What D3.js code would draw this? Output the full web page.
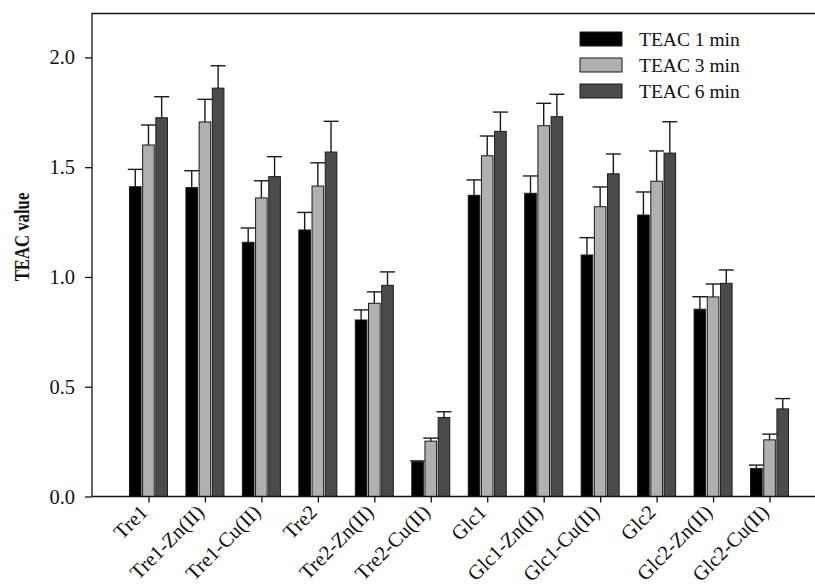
<!DOCTYPE html>
<html>
<head>
<meta charset="utf-8">
<script src="https://cdn.jsdelivr.net/npm/d3@7"></script>
<style>
  body { margin: 0; background: #fff; }
  text { font-family: "Liberation Serif", "Times New Roman", serif; }
</style>
</head>
<body>
<div id="chart"></div>
<script>
"use strict"

// samples on the x axis
let categories = ["Tre1", "Tre1-Zn(II)", "Tre1-Cu(II)", "Tre2", "Tre2-Zn(II)", "Tre2-Cu(II)",
                  "Glc1", "Glc1-Zn(II)", "Glc1-Cu(II)", "Glc2", "Glc2-Zn(II)", "Glc2-Cu(II)"];
let seriesNames = ["TEAC 1 min", "TEAC 3 min", "TEAC 6 min"];

// mean values
let teac1 = [1.411, 1.407, 1.158, 1.214, 0.804, 0.158, 1.372, 1.381, 1.100, 1.282, 0.853, 0.128];
let teac3 = [1.601, 1.706, 1.360, 1.414, 0.880, 0.252, 1.552, 1.689, 1.320, 1.436, 0.909, 0.258];
let teac6 = [1.725, 1.860, 1.457, 1.569, 0.962, 0.360, 1.663, 1.730, 1.470, 1.564, 0.971, 0.399];

// upper error (SD)
let err1 = [0.079, 0.077, 0.065, 0.080, 0.046, 0.004, 0.070, 0.079, 0.079, 0.105, 0.057, 0.015];
let err3 = [0.091, 0.103, 0.078, 0.106, 0.052, 0.014, 0.090, 0.102, 0.090, 0.138, 0.059, 0.026];
let err6 = [0.096, 0.102, 0.091, 0.140, 0.061, 0.026, 0.088, 0.102, 0.090, 0.143, 0.061, 0.047];

let yTicks = [0, 0.5, 1.0, 1.5, 2.0];

let values = [teac1, teac3, teac6];
let errors = [err1, err3, err6];
let fills = ["#000000", "#b0b0b0", "#4b4b4b"];

let width = 815, height = 584;
let plotLeft = 92, plotTop = 13.5, plotBottom = 496.5;

let svg = d3.select("#chart").append("svg")
    .attr("width", width)
    .attr("height", height);

// x positions: categories sit at 1..12 on a 0..13 axis (right edge is cut off)
let x = d3.scaleLinear()
    .domain([0, categories.length + 1])
    .range([plotLeft, 826]);

let y = d3.scaleLinear()
    .domain([0, 2.2])
    .range([plotBottom, plotTop]);

let inner = d3.scaleBand()
    .domain(d3.range(seriesNames.length))
    .range([-19, 19])
    .paddingInner(0.12);

// frame (left and top lines)
svg.append("path")
    .attr("d", "M" + plotLeft + "," + plotBottom + "V" + plotTop + "H" + 830)
    .attr("fill", "none")
    .attr("stroke", "#111")
    .attr("stroke-width", 1.3);

// bars
let data = [];
categories.forEach(function(c, i){
    for(let j = 0; j < seriesNames.length; j++){
        data.push({cat: i, s: j, v: values[j][i], e: errors[j][i]});
    }
});

let barG = svg.append("g");

// error bars (drawn first so bars sit on top of the stem base)
let errG = barG.append("g").attr("stroke", "#1a1a1a").attr("stroke-width", 1.4);
data.forEach(function(d){
    let cx = x(d.cat + 1) + inner(d.s) + inner.bandwidth() / 2;
    errG.append("line")
        .attr("x1", cx).attr("x2", cx)
        .attr("y1", y(d.v)).attr("y2", y(d.v + d.e));
    errG.append("line")
        .attr("x1", cx - 7.5).attr("x2", cx + 7.5)
        .attr("y1", y(d.v + d.e)).attr("y2", y(d.v + d.e));
});

barG.selectAll("rect.bar")
    .data(data)
    .enter().append("rect")
    .attr("class", "bar")
    .attr("x", d => x(d.cat + 1) + inner(d.s))
    .attr("width", inner.bandwidth())
    .attr("y", d => y(d.v))
    .attr("height", d => y(0) - y(d.v))
    .attr("fill", d => fills[d.s])
    .attr("stroke", "#1a1a1a")
    .attr("stroke-width", 1);

// y axis
let yAxis = d3.axisLeft(y)
    .tickValues(yTicks)
    .tickSize(7)
    .tickPadding(10)
    .tickFormat(d3.format(".1f"));

let yG = svg.append("g")
    .attr("transform", "translate(" + plotLeft + ",0)")
    .call(yAxis);
yG.select(".domain").remove();
yG.selectAll(".tick line").attr("stroke", "#111").attr("stroke-width", 1.3);
yG.selectAll("text")
    .style("font-family", "'Liberation Serif', serif")
    .style("font-size", "20.5px")
    .attr("fill", "#111");

// x axis
let xAxis = d3.axisBottom(x)
    .tickValues(d3.range(1, categories.length + 1))
    .tickSize(6)
    .tickFormat(d => categories[d - 1]);

let xG = svg.append("g")
    .attr("transform", "translate(0," + plotBottom + ")")
    .call(xAxis);
xG.select(".domain")
    .attr("d", "M" + plotLeft + ",0H" + 830)
    .attr("stroke", "#111")
    .attr("stroke-width", 1.3);
xG.selectAll(".tick line").attr("stroke", "#111").attr("stroke-width", 1.3);
// labels end just under the tick, turned 45 degrees
xG.selectAll("text")
    .style("font-family", "'Liberation Serif', serif")
    .style("font-size", "20.5px")
    .style("text-anchor", "end")
    .attr("fill", "#111")
    .attr("x", 0)
    .attr("y", 0)
    .attr("dy", 0)
    .attr("transform", "translate(0,17) rotate(-45)");

// y axis title (narrow bold face in the original)
svg.append("text")
    .attr("transform", "translate(29,237) rotate(-90) scale(0.76,1)")
    .attr("text-anchor", "middle")
    .style("font-size", "22px")
    .style("font-weight", "bold")
    .attr("fill", "#111")
    .text("TEAC value");

// legend
let legend = svg.append("g").attr("transform", "translate(580,32)");
seriesNames.forEach(function(name, j){
    let g = legend.append("g").attr("transform", "translate(0," + (j * 26) + ")");
    g.append("rect")
        .attr("width", 42)
        .attr("height", 14)
        .attr("fill", fills[j])
        .attr("stroke", "#1a1a1a")
        .attr("stroke-width", 1);
    g.append("text")
        .attr("x", 59)
        .attr("y", 13.5)
        .style("font-size", "19.5px")
        .attr("fill", "#111")
        .text(name);
});
</script>
</body>
</html>
